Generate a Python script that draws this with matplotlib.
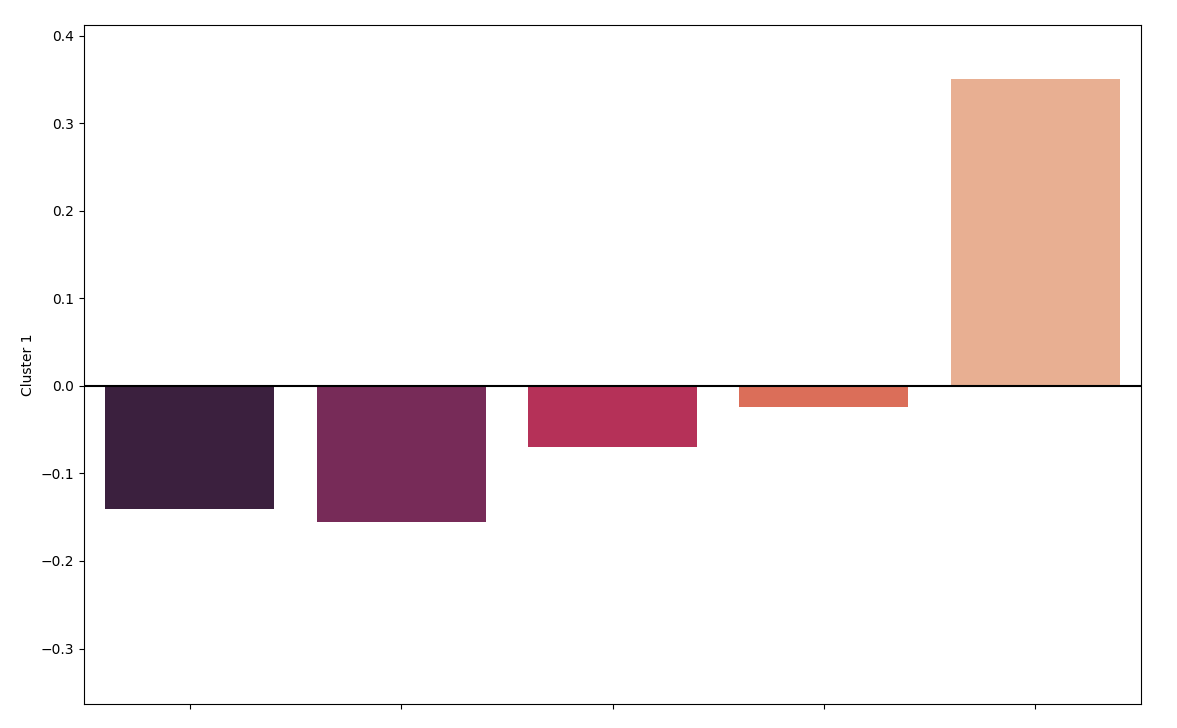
import matplotlib
matplotlib.use("Agg")
import matplotlib.pyplot as plt
import seaborn as sns
import pandas as pd

# valores
categorias = ["A", "B", "C", "D", "E"]
valores = [-0.1405, -0.1555, -0.0697, -0.024, 0.3505]

df = pd.DataFrame({"categoria": categorias, "Cluster 1": valores})

fig, ax = plt.subplots(figsize=(11.77, 7.28), dpi=100)
sns.barplot(data=df, x="categoria", y="Cluster 1", hue="categoria",
            palette="rocket", legend=False, ax=ax)
ax.axhline(0, color="black", linewidth=1.5)
ax.set_ylim(-0.3634, 0.4126)
ax.set_xlabel("")
ax.set_xticks(range(len(categorias)))
ax.set_xticklabels([""] * len(categorias))
plt.subplots_adjust(left=0.0714, right=0.9694, top=0.9657, bottom=0.033)
plt.savefig("out.png", dpi=100)
